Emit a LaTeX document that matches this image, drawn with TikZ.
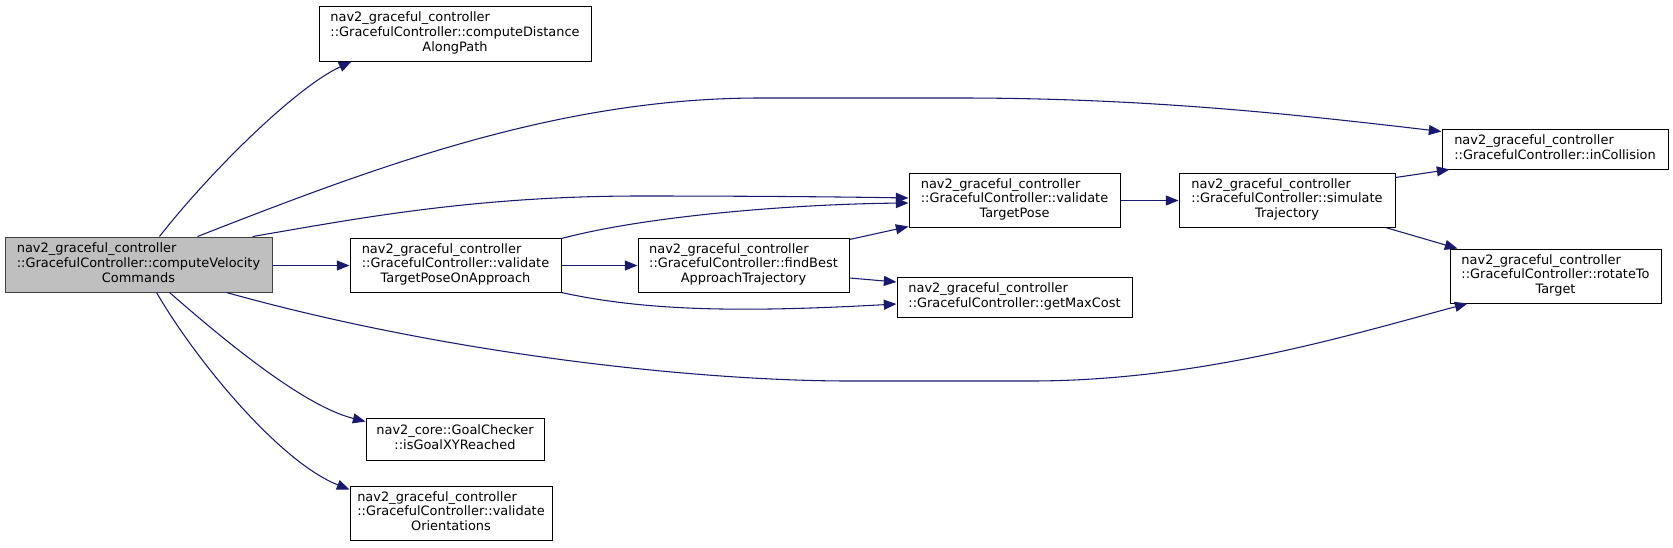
\documentclass[tikz,border=0pt]{standalone}
\usepackage{fontspec}
\setmainfont{DejaVu Sans}
\usetikzlibrary{arrows.meta,calc}
\definecolor{edgec}{HTML}{191970}
\definecolor{mainfill}{HTML}{BFBFBF}
\definecolor{bord}{HTML}{404040}
\newcommand\lblthree[3]{\begin{tabular}{@{}l@{}}#1\\#2\\\multicolumn{1}{@{}c@{}}{#3}\end{tabular}}
\newcommand\lbltwo[2]{\begin{tabular}{@{}l@{}}#1\\\multicolumn{1}{@{}c@{}}{#2}\end{tabular}}
\tikzset{
  fnbox/.style={draw=black, line width=0.75pt, fill=white, inner sep=0pt,
    font=\fontsize{9.7}{11}\selectfont},
  rootbox/.style={fnbox, draw=bord, fill=mainfill},
  call/.style={draw=edgec, line width=0.8pt, -{Triangle[length=9.5pt,width=7.5pt]}, edgec}
}
\begin{document}
\begin{tikzpicture}[x=0.75pt,y=-0.75pt]
\useasboundingbox (0,0) rectangle (1673,547);

\node[rootbox, minimum width=200.25pt, minimum height=41.25pt] (main) at (138.5,264.5)
  {\lblthree{nav2\_graceful\_controller}{::GracefulController::computeVelocity}{Commands}};
\node[fnbox, minimum width=204pt, minimum height=41.25pt] (cd) at (455,33.5)
  {\lblthree{nav2\_graceful\_controller}{::GracefulController::computeDistance}{AlongPath}};
\node[fnbox, minimum width=158.25pt, minimum height=40.5pt] (vtpoa) at (455.5,265)
  {\lblthree{nav2\_graceful\_controller}{::GracefulController::validate}{TargetPoseOnApproach}};
\node[fnbox, minimum width=158.25pt, minimum height=40.5pt] (fb) at (743.5,265)
  {\lblthree{nav2\_graceful\_controller}{::GracefulController::findBest}{ApproachTrajectory}};
\node[fnbox, minimum width=158.25pt, minimum height=40.5pt] (vtp) at (1014.5,200)
  {\lblthree{nav2\_graceful\_controller}{::GracefulController::validate}{TargetPose}};
\node[fnbox, minimum width=176.25pt, minimum height=30pt] (gmc) at (1014.5,297)
  {\lbltwo{nav2\_graceful\_controller}{::GracefulController::getMaxCost}};
\node[fnbox, minimum width=162pt, minimum height=40.5pt] (sim) at (1287,200)
  {\lblthree{nav2\_graceful\_controller}{::GracefulController::simulate}{Trajectory}};
\node[fnbox, minimum width=169.5pt, minimum height=30pt] (inc) at (1555,149)
  {\lbltwo{nav2\_graceful\_controller}{::GracefulController::inCollision}};
\node[fnbox, minimum width=158.25pt, minimum height=40.5pt] (rot) at (1555.5,276)
  {\lblthree{nav2\_graceful\_controller}{::GracefulController::rotateTo}{Target}};
\node[fnbox, minimum width=133.5pt, minimum height=31.5pt] (goal) at (455,439)
  {\lbltwo{nav2\_core::GoalChecker}{::isGoalXYReached}};
\node[fnbox, minimum width=151.5pt, minimum height=40.5pt] (vo) at (451,513)
  {\lblthree{nav2\_graceful\_controller}{::GracefulController::validate}{Orientations}};

% edges from main
\draw[call] ($(main.north west)+(155,0)$) .. controls (210,172) and (295,88) .. ($(cd.south west)+(33,0)$);
\draw[call] ($(main.north west)+(193,0)$) .. controls (380,165) and (560,98) .. (760,98)
  -- (960,98) .. controls (1150,98) and (1300,115) .. ($(inc.north west)+(0,3)$);
\draw[call] ($(main.north west)+(248,0)$) .. controls (350,220) and (470,196) .. (640,196)
  .. controls (760,196) and (850,197) .. ($(vtp.west)+(0,-2)$);
\draw[call] ($(main.east)+(0,1)$) -- ($(vtpoa.west)+(0,0.5)$);
\draw[call] ($(main.south west)+(222,0)$) .. controls (450,355) and (700,381) .. (850,381)
  -- (1030,381) .. controls (1200,381) and (1350,335) .. ($(rot.south west)+(18,0)$);
\draw[call] ($(main.south west)+(165,0)$) .. controls (215,332) and (300,405) .. ($(goal.north west)+(0,4)$);
\draw[call] ($(main.south west)+(152,0)$) .. controls (197,362) and (280,462) .. ($(vo.north west)+(0,4)$);

% other edges
\draw[call] ($(vtpoa.north east)+(0,1)$) .. controls (650,215) and (800,204) .. ($(vtp.west)+(0,3)$);
\draw[call] ($(vtpoa.east)+(0,0.5)$) -- ($(fb.west)+(0,0.5)$);
\draw[call] (vtpoa.south east) .. controls (650,312) and (750,312) .. ($(gmc.west)+(0,7)$);
\draw[call] ($(fb.north east)+(0,2)$) -- ($(vtp.south west)+(0,-1)$);
\draw[call] ($(fb.east)+(0,13)$) -- ($(gmc.west)+(0,-15)$);
\draw[call] ($(vtp.east)+(0,0.5)$) -- ($(sim.west)+(0,0.5)$);
\draw[call] ($(sim.north east)+(0,5)$) -- ($(inc.south west)+(8,0)$);
\draw[call] ($(sim.south east)+(-10,0)$) -- ($(rot.north west)+(8,0)$);
\end{tikzpicture}
\end{document}
